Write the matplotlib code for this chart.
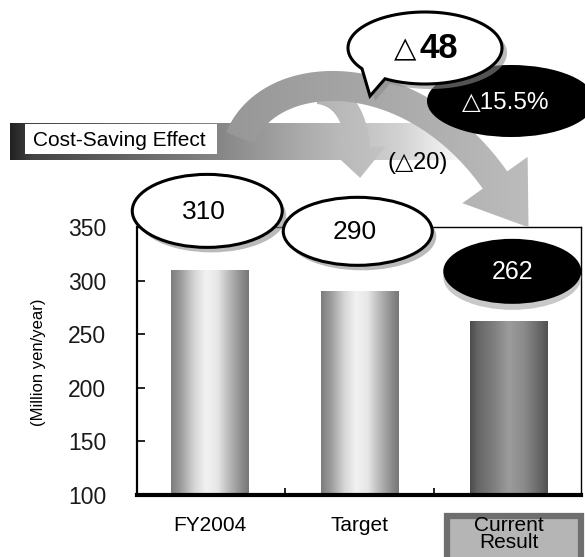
import numpy as np
import matplotlib
matplotlib.use("Agg")
import matplotlib.pyplot as plt
from matplotlib.patches import Ellipse, Polygon, Rectangle
from matplotlib.colors import LinearSegmentedColormap

# annual cost, million yen / year
categories = ["FY2004", "Target", "Current\nResult"]
costs = [310, 290, 262]
y_ticks = [100, 150, 200, 250, 300, 350]

saving_target = costs[0] - costs[1]
saving_total = costs[0] - costs[2]
saving_pct = saving_total / costs[0] * 100

plt.rcParams['font.family'] = ['Liberation Sans', 'DejaVu Sans']

W, H = 585, 557
fig = plt.figure(figsize=(W / 100, H / 100), dpi=100)
ax = fig.add_axes([137 / W, 1 - 495 / H, (581 - 137) / W, (495 - 227) / H])

# overlay in pixel units (y grows downward) for the callouts and arrows
ov = fig.add_axes([0, 0, 1, 1], zorder=5)
ov.set_xlim(0, W)
ov.set_ylim(H, 0)
ov.axis('off')
ov.patch.set_alpha(0)

# --- bars with a cylinder-like shading ---
x = np.arange(len(costs))
bars = ax.bar(x, costs, width=0.52, color='none', edgecolor='none')
ax.set_xlim(-0.49, 2.48)
ax.set_ylim(100, 350)
y_floor = ax.get_ylim()[0]

light = LinearSegmentedColormap.from_list('light', [
    (0, '#7c7c7c'), (0.12, '#9a9a9a'), (0.3, '#d6d6d6'), (0.45, '#f2f2f2'),
    (0.6, '#e6e6e6'), (0.75, '#b8b8b8'), (0.9, '#8e8e8e'), (1, '#777777')])
dark = LinearSegmentedColormap.from_list('dark', [
    (0, '#4c4c4c'), (0.1, '#666666'), (0.3, '#7e7e7e'), (0.5, '#9c9c9c'),
    (0.7, '#8a8a8a'), (0.9, '#666666'), (1, '#505050')])
grad = np.linspace(0, 1, 256)[None, :]
for bar, cmap in zip(bars, [light, light, dark]):
    x0, w, h = bar.get_x(), bar.get_width(), bar.get_height()
    im = ax.imshow(grad, cmap=cmap, extent=(x0, x0 + w, y_floor, h),
                   aspect='auto', zorder=2, interpolation='bilinear')
    im.set_clip_path(bar)

ax.set_xlim(-0.49, 2.48)
ax.set_ylim(100, 350)

for side, lw in [('left', 1.6), ('bottom', 3), ('top', 1), ('right', 1)]:
    ax.spines[side].set_linewidth(lw)

ax.set_yticks(y_ticks)
ax.tick_params(axis='y', direction='in', length=6, width=1.2, pad=22,
               labelsize=16.5, labelcolor='#1a1a1a')
ax.set_xticks(x, categories)
ax.set_xticks([0.5, 1.5], minor=True)
ax.tick_params(axis='x', which='major', length=0, pad=15, labelsize=15)
ax.tick_params(axis='x', which='minor', direction='in', length=5, width=1.2)
ax.get_xticklabels()[2].set_linespacing(0.85)

ov.text(39, 362, '(Million yen/year)', rotation=90, ha='center',
        va='center', fontsize=12)


def to_px(xd, yd):
    disp = ax.transData.transform((xd, yd))
    return ov.transData.inverted().transform(disp)


# grey box behind the "Current Result" label
ax.add_patch(Rectangle((447, 516), 134, 60, transform=ov.transData,
                       facecolor='#b5b5b5', edgecolor='#6e6e6e', lw=4.5,
                       clip_on=False, zorder=1))

# --- "Cost-Saving Effect" band ---
band = LinearSegmentedColormap.from_list('band', [
    (0, '#222222'), (0.05, '#444444'), (0.45, '#858585'),
    (0.63, '#aaaaaa'), (0.85, '#d2d2d2'), (1, '#ffffff')])
ov.imshow(grad, cmap=band, extent=(10, 470, 160, 123), aspect='auto',
          zorder=1, interpolation='bilinear')
ov.add_patch(Rectangle((25, 124), 192, 30, facecolor='white',
                       edgecolor='none', zorder=1.5))
ov.text(33, 140, 'Cost-Saving Effect', ha='left', va='center',
        fontsize=15, zorder=1.6)


def curved_arrow(pts, width, head_w, head_len, colors, z):
    p0, p1, p2, p3 = [np.array(p, float) for p in pts]
    t = np.linspace(0, 1, 80)[:, None]
    curve = ((1 - t) ** 3 * p0 + 3 * (1 - t) ** 2 * t * p1
             + 3 * (1 - t) * t ** 2 * p2 + t ** 3 * p3)
    d = (3 * (1 - t) ** 2 * (p1 - p0) + 6 * (1 - t) * t * (p2 - p1)
         + 3 * t ** 2 * (p3 - p2))
    d = d / np.linalg.norm(d, axis=1, keepdims=True)
    n = np.column_stack([-d[:, 1], d[:, 0]])
    left = curve + n * width / 2
    right = curve - n * width / 2
    tip = p3 + d[-1] * head_len
    head = [p3 + n[-1] * head_w / 2, tip, p3 - n[-1] * head_w / 2]
    poly = np.vstack([left, head, right[::-1]])
    shape = Polygon(poly, closed=True, facecolor='none', edgecolor='none',
                    zorder=z)
    ov.add_patch(shape)
    # shade the arrow from left to right
    cmap = LinearSegmentedColormap.from_list('arrow', colors)
    fill = ov.imshow(grad, cmap=cmap, aspect='auto', zorder=z,
                     extent=(poly[:, 0].min(), poly[:, 0].max(),
                             poly[:, 1].max(), poly[:, 1].min()),
                     interpolation='bilinear')
    fill.set_clip_path(shape)


curved_arrow([(318, 92), (345, 95), (356, 120), (358, 148)],
             24, 56, 30, ['#b4b4b4', '#c4c4c4'], 2)
curved_arrow([(240, 138), (270, 65), (410, 60), (495, 180)],
             30, 80, 58, ['#979797', '#a8a8a8', '#bcbcbc'], 3)
ov.set_xlim(0, W)
ov.set_ylim(H, 0)

ov.text(418, 163, f'(△{saving_target})', ha='center', va='center',
        fontsize=17, zorder=4)

# --- total saving callouts ---
ov.add_patch(Ellipse((511, 101), 168, 72, facecolor='black',
                     edgecolor='none', zorder=5))
ov.text(506, 103, f'△{saving_pct:.1f}%', color='white', ha='center',
        va='center', fontsize=17.5, zorder=6)

cx, cy, a, b = 425, 48, 77, 36
th = np.radians(np.linspace(144.9, 121.3 + 360, 200))
bubble = np.column_stack([cx + a * np.cos(th), cy + b * np.sin(th)])
bubble = np.vstack([bubble, [(370, 96)]])
ov.add_patch(Polygon(bubble + [5, 5], closed=True, facecolor='#8c8c8c',
                     alpha=0.6, edgecolor='none', zorder=6))
ov.add_patch(Polygon(bubble, closed=True, facecolor='white',
                     edgecolor='black', lw=2.2, zorder=7))
ov.text(cx - 20, cy + 1, '△', ha='center', va='center', fontsize=21,
        family='DejaVu Sans', zorder=8)
ov.text(cx + 14, cy + 1, f'{saving_total}', ha='center', va='center',
        fontsize=25, fontweight='bold', zorder=8)

# --- value ellipses above the bars ---
offsets = [(-3, -59), (-2, -60), (3, -50)]
sizes = [(150, 73), (149, 68), (138, 65)]
for i, (val, (dx, dy), (ew, eh)) in enumerate(zip(costs, offsets, sizes)):
    px, py = to_px(x[i], val)
    ex, ey = px + dx, py + dy
    if i < 2:
        ov.add_patch(Ellipse((ex + 4, ey + 5), ew, eh, facecolor='#8c8c8c',
                             alpha=0.6, edgecolor='none', zorder=6))
        ov.add_patch(Ellipse((ex, ey), ew, eh, facecolor='white',
                             edgecolor='black', lw=2.2, zorder=7))
        ov.text(ex - 3, ey + 1, f'{val}', ha='center', va='center',
                fontsize=19, zorder=8)
    else:
        ov.add_patch(Ellipse((ex, ey + 6), ew, eh, facecolor='#c8c8c8',
                             edgecolor='none', zorder=6))
        ov.add_patch(Ellipse((ex, ey), ew, eh, facecolor='black',
                             edgecolor='none', zorder=7))
        ov.text(ex, ey + 1, f'{val}', color='white', ha='center',
                va='center', fontsize=18, zorder=8)

fig.savefig('out.png', dpi=100)
